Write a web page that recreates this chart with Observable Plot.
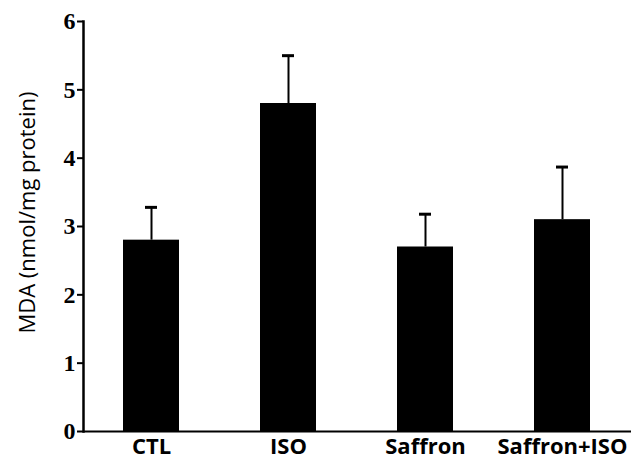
<!DOCTYPE html>
<html>
<head>
<meta charset="utf-8">
<script src="https://cdn.jsdelivr.net/npm/d3@7"></script>
<script src="https://cdn.jsdelivr.net/npm/@observablehq/plot@0.6"></script>
<style>
  html, body { margin: 0; padding: 0; background: #fff; }
</style>
</head>
<body>
<div id="chart"></div>
<script>
const groups = ["CTL", "ISO", "Saffron", "Saffron+ISO"];
const means = [2.8, 4.8, 2.7, 3.1];
const errors = [0.48, 0.7, 0.48, 0.77];
const yTicks = [0, 1, 2, 3, 4, 5, 6];
const yLabel = "MDA (nmol/mg protein)";

const data = groups.map((g, i) => ({group: g, mean: means[i], top: means[i] + errors[i]}));

const chart = Plot.plot({
  width: 632,
  height: 461,
  marginTop: 21,
  marginBottom: 30,
  marginLeft: 83,
  marginRight: 1,
  style: {background: "#fff", color: "#000"},
  x: {domain: groups, paddingInner: 0.59, paddingOuter: 0.295, label: null},
  y: {domain: [0, 6], label: null},
  marks: [
    Plot.barY(data, {x: "group", y: "mean", fill: "#000"}),
    Plot.ruleX(data, {x: "group", y1: "mean", y2: "top", stroke: "#000", strokeWidth: 2}),
    Plot.tickY(data, {x: "group", y: "top", stroke: "#000", strokeWidth: 3, insetLeft: 22, insetRight: 22}),
    Plot.ruleY([0], {stroke: "#000", strokeWidth: 2}),
    Plot.frame({anchor: "left", stroke: "#000", strokeWidth: 2.5}),
    Plot.axisY({ticks: yTicks, tickSize: 6, tickPadding: 2, tickFormat: d3.format("d"),
      fontSize: 24, fontWeight: "bold", fontFamily: "Liberation Serif", strokeWidth: 2, label: null}),
    Plot.axisX({tickSize: 0, tickPadding: 7, fontSize: 22, fontWeight: "bold",
      fontFamily: "Open Sans", label: null}),
    Plot.text([yLabel], {text: d => d, frameAnchor: "left", textAnchor: "middle", dx: -56, dy: -14, rotate: -90,
      fontSize: 22, fontFamily: "Open Sans", fill: "#000"})
  ]
});
document.getElementById("chart").appendChild(chart);
</script>
</body>
</html>
